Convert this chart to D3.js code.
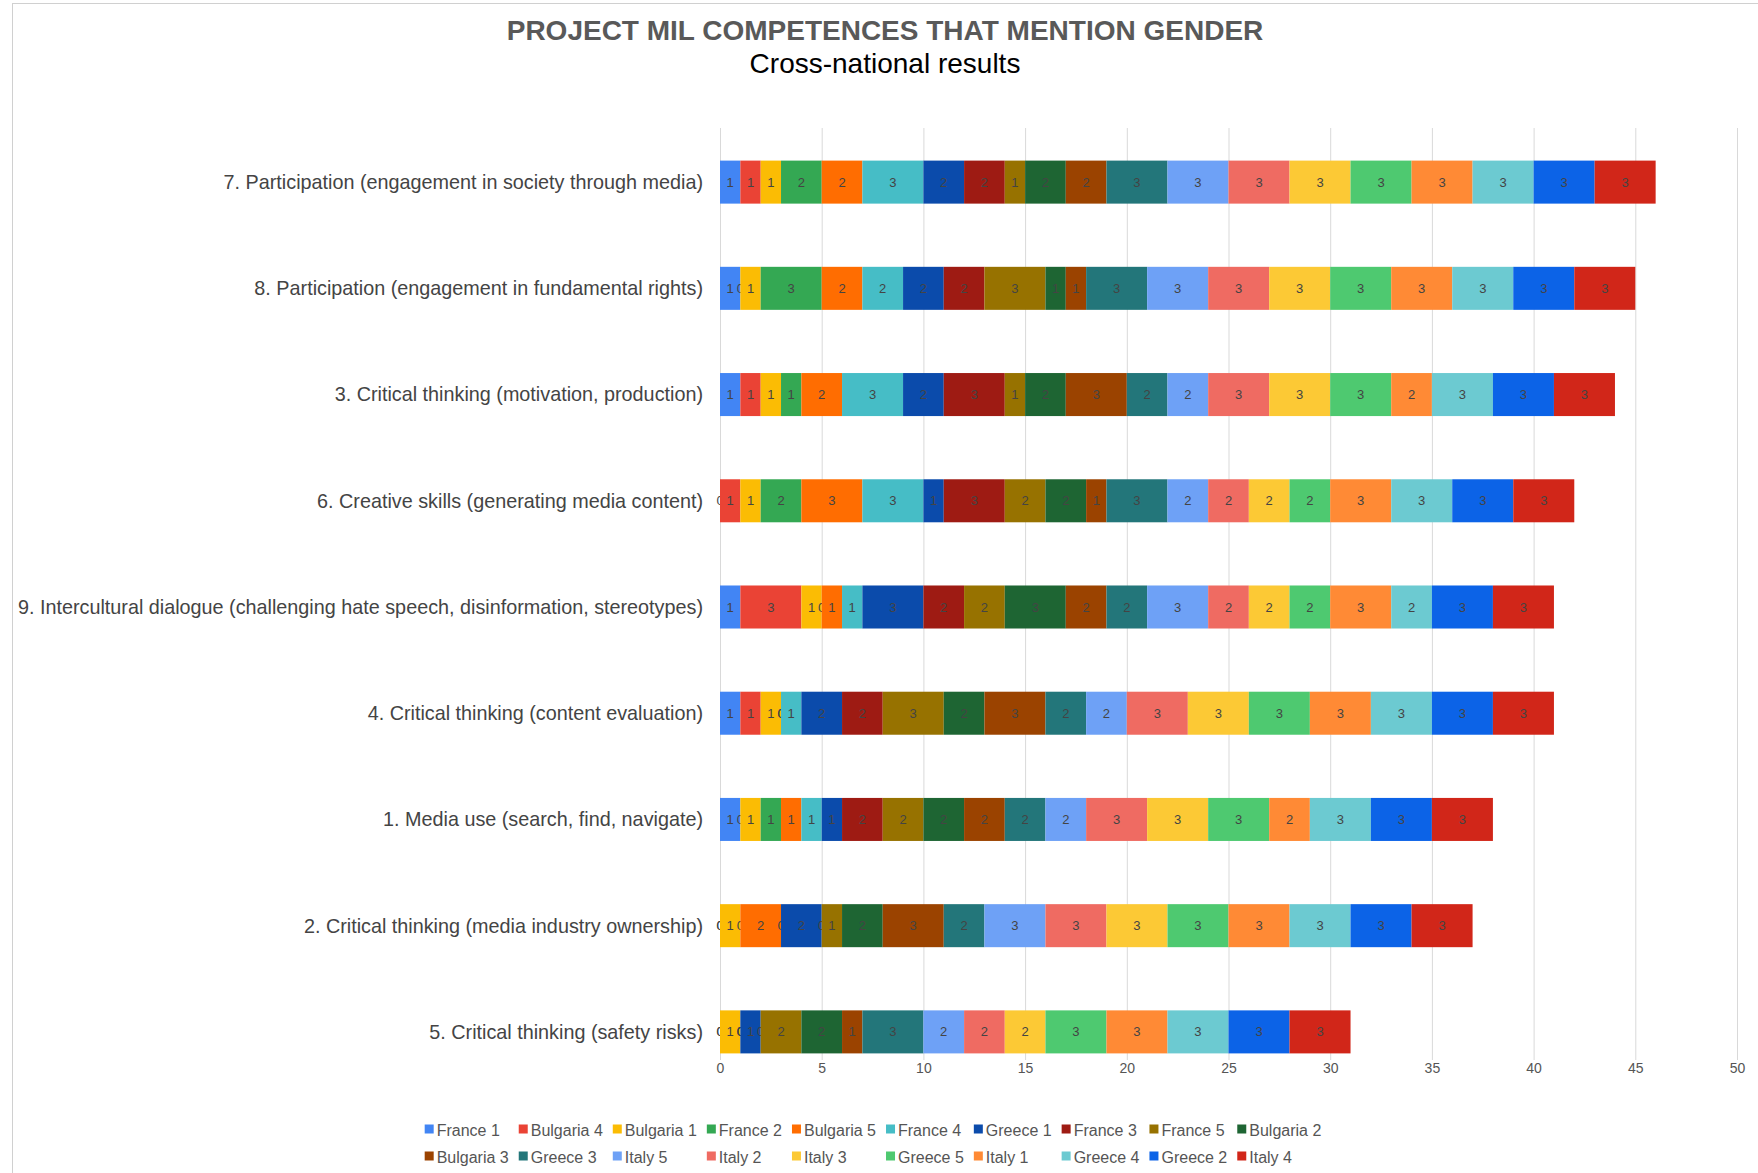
<!DOCTYPE html>
<html>
<head>
<meta charset="utf-8">
<script src="https://cdn.jsdelivr.net/npm/d3@7"></script>
<style>
body { margin: 0; background: #fff; }
text { font-family: "Liberation Sans", Arial, Helvetica, sans-serif; }
</style>
</head>
<body>
<div class="chart"></div>
<script>
// categories, top to bottom
var categories = [
	"7. Participation (engagement in society through media)",
	"8. Participation (engagement in fundamental rights)",
	"3. Critical thinking (motivation, production)",
	"6. Creative skills (generating media content)",
	"9. Intercultural dialogue (challenging hate speech, disinformation, stereotypes)",
	"4. Critical thinking (content evaluation)",
	"1. Media use (search, find, navigate)",
	"2. Critical thinking (media industry ownership)",
	"5. Critical thinking (safety risks)"
];

var seriesNames = ["France 1", "Bulgaria 4", "Bulgaria 1", "France 2", "Bulgaria 5", "France 4",
	"Greece 1", "France 3", "France 5", "Bulgaria 2", "Bulgaria 3", "Greece 3", "Italy 5",
	"Italy 2", "Italy 3", "Greece 5", "Italy 1", "Greece 4", "Greece 2", "Italy 4"];

var seriesColors = ["#4285f4", "#ea4335", "#fbbc04", "#34a853", "#ff6d01", "#46bdc6",
	"#0b4bab", "#9e1b13", "#977200", "#1e6533", "#9b4300", "#23767a", "#6ea1f6",
	"#ef6b62", "#fcc935", "#4ec970", "#ff8a35", "#6ccad1", "#0c63e7", "#d12619"];

// values per competence, in series order
var participationSociety = [1,1,1,2,2,3,2,2,1,2,2,3,3,3,3,3,3,3,3,3];
var participationRights  = [1,0,1,3,2,2,2,2,3,1,1,3,3,3,3,3,3,3,3,3];
var motivationProduction = [1,1,1,1,2,3,2,3,1,2,3,2,2,3,3,3,2,3,3,3];
var creativeSkills       = [0,1,1,2,3,3,1,3,2,2,1,3,2,2,2,2,3,3,3,3];
var intercultural        = [1,3,1,0,1,1,3,2,2,3,2,2,3,2,2,2,3,2,3,3];
var contentEvaluation    = [1,1,1,0,0,1,2,2,3,2,3,2,2,3,3,3,3,3,3,3];
var mediaUse             = [1,0,1,1,1,1,1,2,2,2,2,2,2,3,3,3,2,3,3,3];
var industryOwnership    = [0,0,1,0,2,0,2,0,1,2,3,2,3,3,3,3,3,3,3,3];
var safetyRisks          = [0,0,1,0,0,0,1,0,2,2,1,3,2,2,2,3,3,3,3,3];

var xTicks = [0, 5, 10, 15, 20, 25, 30, 35, 40, 45, 50];

var rows = [participationSociety, participationRights, motivationProduction, creativeSkills,
	intercultural, contentEvaluation, mediaUse, industryOwnership, safetyRisks];

var width = 1758, height = 1173;

var svg = d3.select(".chart").append("svg")
	.attr("width", width)
	.attr("height", height);

// frame
svg.append("rect")
	.attr("x", 12.5).attr("y", 3.5)
	.attr("width", width).attr("height", height + 10)
	.attr("fill", "#fff")
	.attr("stroke", "#d0d0d0");

// title
svg.append("text")
	.attr("x", 885).attr("y", 40)
	.attr("text-anchor", "middle")
	.attr("font-size", 28)
	.attr("font-weight", "bold")
	.attr("fill", "#595959")
	.text("PROJECT MIL COMPETENCES THAT MENTION GENDER");

svg.append("text")
	.attr("x", 885).attr("y", 73)
	.attr("text-anchor", "middle")
	.attr("font-size", 28)
	.attr("fill", "#000")
	.text("Cross-national results");

var plotLeft = 720, plotRight = 1737, gridTop = 128, gridBottom = 1060;

var x = d3.scaleLinear().domain([0, 50]).range([plotLeft, plotRight]);

var y = d3.scaleBand()
	.domain(categories)
	.range([129, 1085])
	.paddingInner(0.595)
	.paddingOuter(0.2975);

// gridlines
svg.append("g").attr("class", "grid")
	.selectAll("line")
	.data(xTicks)
	.enter().append("line")
	.attr("x1", function(d) { return x(d) + 0.5 })
	.attr("x2", function(d) { return x(d) + 0.5 })
	.attr("y1", gridTop)
	.attr("y2", gridBottom)
	.attr("stroke", "#d9d9d9")
	.attr("stroke-width", 1);

// x axis tick labels
var axis = d3.axisBottom(x).tickValues(xTicks).tickSize(0).tickPadding(0);
var gAxis = svg.append("g")
	.attr("transform", "translate(0," + 1063 + ")")
	.call(axis);
gAxis.select(".domain").remove();
gAxis.selectAll("text")
	.attr("font-family", "Liberation Sans, Arial, sans-serif")
	.attr("font-size", 14)
	.attr("fill", "#555");

// category labels
svg.append("g").selectAll("text")
	.data(categories)
	.enter().append("text")
	.attr("x", 703)
	.attr("y", function(d) { return y(d) + y.bandwidth() / 2 })
	.attr("dy", "0.35em")
	.attr("text-anchor", "end")
	.attr("font-size", 19.8)
	.attr("fill", "#444")
	.text(function(d) { return d });

// stacked data
var table = categories.map(function(c, i) {
	var o = {category: c};
	seriesNames.forEach(function(s, j) { o[s] = rows[i][j] });
	return o;
});

var stack = d3.stack().keys(seriesNames);
var layers = stack(table);
var color = d3.scaleOrdinal().domain(seriesNames).range(seriesColors);

var gLayers = svg.append("g").selectAll("g")
	.data(layers)
	.enter().append("g")
	.attr("fill", function(d) { return color(d.key) });

gLayers.selectAll("rect")
	.data(function(d) { return d })
	.enter().append("rect")
	.attr("x", function(d) { return x(d[0]) })
	.attr("y", function(d) { return y(d.data.category) })
	.attr("width", function(d) { return x(d[1]) - x(d[0]) })
	.attr("height", y.bandwidth());

// data labels
gLayers.selectAll("text")
	.data(function(d) {
		return d.map(function(p) { return {p: p, key: d.key} });
	})
	.enter().append("text")
	.attr("x", function(d) { return x((d.p[0] + d.p[1]) / 2) })
	.attr("y", function(d) { return y(d.p.data.category) + y.bandwidth() / 2 })
	.attr("dy", "0.35em")
	.attr("text-anchor", "middle")
	.attr("font-size", 13)
	.attr("fill", "#444")
	.text(function(d) { return d.p.data[d.key] });

// legend, two rows in aligned columns
var perRow = 10;
var legendFont = 16, sq = 9, sqGap = 3, colGap = 10;
var legend = svg.append("g").attr("class", "legend");
var items = legend.selectAll("g")
	.data(seriesNames)
	.enter().append("g");
items.append("rect")
	.attr("width", sq).attr("height", sq)
	.attr("y", -sq / 2 - 1)
	.attr("fill", function(d) { return color(d) });
items.append("text")
	.attr("x", sq + sqGap)
	.attr("dy", "0.35em")
	.attr("font-size", legendFont)
	.attr("fill", "#555")
	.text(function(d) { return d });

var colWidths = [];
items.each(function(d, i) {
	var w = sq + sqGap + d3.select(this).select("text").node().getComputedTextLength();
	var c = i % perRow;
	colWidths[c] = Math.max(colWidths[c] || 0, w);
});
var colX = [], acc = 0;
colWidths.forEach(function(w, i) { colX[i] = acc; acc += w + colGap });
var legendWidth = acc - colGap;
var legendLeft = 873 - legendWidth / 2;
items.attr("transform", function(d, i) {
	return "translate(" + (legendLeft + colX[i % perRow]) + "," + (1130 + Math.floor(i / perRow) * 27) + ")";
});
</script>
</body>
</html>
